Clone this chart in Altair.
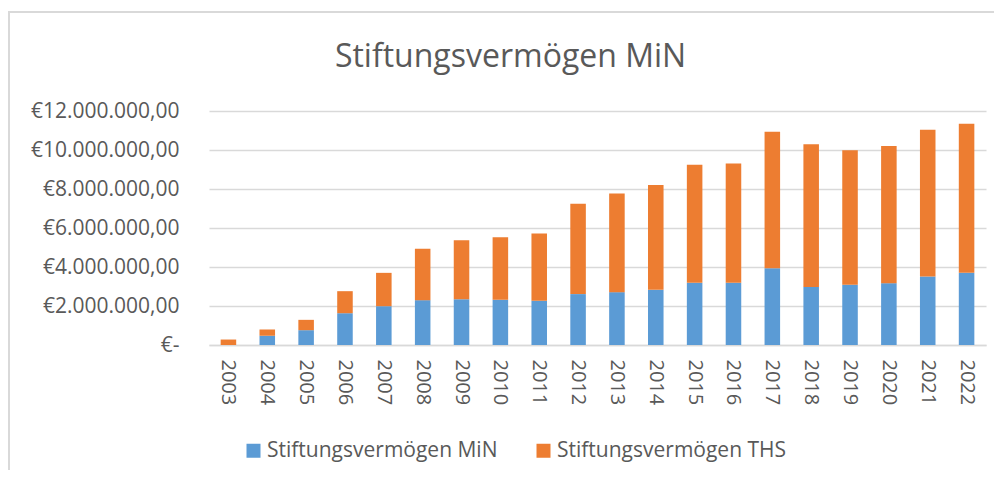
import altair as alt
import pandas as pd

# ---- data ----
years = [str(y) for y in range(2003, 2023)]
series_names = ["Stiftungsvermögen MiN", "Stiftungsvermögen THS"]
# values in millions of euro
min_values = [0.00, 0.47, 0.76, 1.63, 1.99, 2.30, 2.35, 2.32, 2.27, 2.61,
              2.71, 2.83, 3.19, 3.19, 3.94, 2.98, 3.09, 3.17, 3.51, 3.70]
ths_values = [0.28, 0.32, 0.53, 1.13, 1.71, 2.63, 3.02, 3.21, 3.45, 4.63,
              5.06, 5.37, 6.05, 6.12, 6.99, 7.32, 6.90, 7.03, 7.53, 7.64]
y_ticks = [0, 2000000, 4000000, 6000000, 8000000, 10000000, 12000000]

rows = []
for i, yr in enumerate(years):
    rows.append({"Jahr": yr, "Serie": series_names[0], "Wert": min_values[i] * 1e6, "Ordnung": 0})
    rows.append({"Jahr": yr, "Serie": series_names[1], "Wert": ths_values[i] * 1e6, "Ordnung": 1})
df = pd.DataFrame(rows)

FONT = "Open Sans"
TEXT = "#595959"
GRID = "#d9d9d9"

label_expr = ("datum.value == 0 ? '€-\u00a0\u00a0' : '€' + format(datum.value / 1000000, 'd') + '.000.000,00'")

frame = alt.Chart(alt.Data(values=[{"f": 1}])).mark_rect(
    fill="transparent", stroke=GRID, strokeWidth=2
).encode(
    x=alt.value(-200), x2=alt.value(830),
    y=alt.value(-99), y2=alt.value(450)
)

bars = alt.Chart(df).mark_bar().encode(
    x=alt.X("Jahr:N", sort=years,
            scale=alt.Scale(paddingInner=0.6, paddingOuter=0.3),
            axis=alt.Axis(title=None, labelAngle=90, labelAlign="left", labelBaseline="middle",
                          labelPadding=14, ticks=False, domainColor=GRID, domainWidth=1.5,
                          grid=False, labelFontSize=20)),
    y=alt.Y("Wert:Q", stack="zero",
            scale=alt.Scale(domain=[0, 12000000], nice=False),
            axis=alt.Axis(title=None, values=y_ticks, labelExpr=label_expr, ticks=False,
                          domain=False, labelPadding=30, gridColor=GRID, gridWidth=1.3,
                          labelLimit=400, labelFontSize=21)),
    color=alt.Color("Serie:N",
                    scale=alt.Scale(domain=series_names, range=["#5b9bd5", "#ed7d31"]),
                    legend=alt.Legend(title=None, orient="none", legendX=34, legendY=329,
                                      direction="horizontal", symbolType="square",
                                      symbolSize=196, symbolStrokeWidth=0, labelFontSize=21,
                                      columnPadding=35, labelOffset=3, labelLimit=500)),
    order=alt.Order("Ordnung:Q", sort="ascending"),
)

chart = alt.layer(frame, bars).properties(
    width=777,
    height=234,
    autosize=alt.AutoSizeParams(type="none"),
    padding={"left": 201, "top": 103, "right": 8, "bottom": 125},
    title=alt.TitleParams("Stiftungsvermögen MiN", fontSize=32, font=FONT, fontWeight="normal",
                          color=TEXT, anchor="middle", frame="group", dx=-87, offset=-63),
).configure_view(
    strokeWidth=0
).configure_axis(
    labelFont=FONT, labelColor=TEXT
).configure_legend(
    labelFont=FONT, labelColor=TEXT
)

chart.save("out.html", embed_options={"renderer": "svg", "actions": False})
